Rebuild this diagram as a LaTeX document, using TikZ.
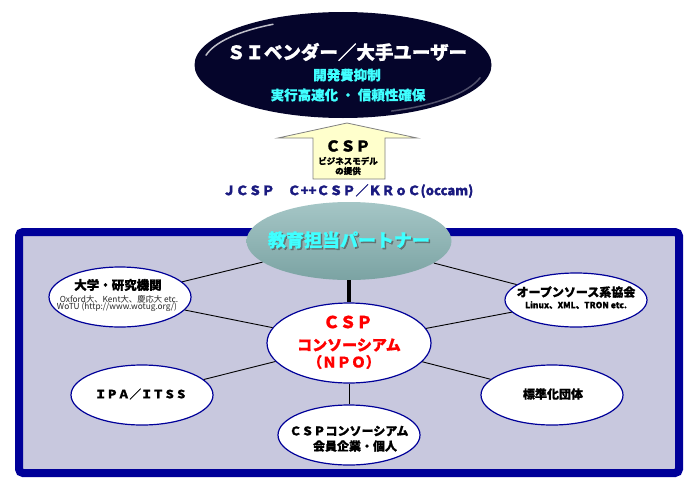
\documentclass[tikz,border=0pt]{standalone}
\usepackage{fontspec}
\setmainfont{Noto Sans CJK JP}[BoldFeatures={FakeBold=1}]
\usetikzlibrary{shapes.geometric}
\definecolor{frameblue}{HTML}{000099}
\definecolor{framefill}{HTML}{C8C8DE}
\definecolor{navytop}{HTML}{05052B}
\definecolor{cyantext}{HTML}{40FFFF}
\definecolor{tealtop}{HTML}{A5C6C6}
\definecolor{tealbot}{HTML}{7BA3A3}
\definecolor{arrowfill}{HTML}{FFFFCC}
\definecolor{jcspblue}{HTML}{1A1A80}
\definecolor{cspred}{HTML}{FF0000}
\newcommand{\fsz}[1]{\fontsize{#1}{#1}\selectfont}
\begin{document}
\begin{tikzpicture}[x=1pt,y=-1pt,
  ell/.style={ellipse, draw=frameblue, line width=1.2, fill=white, inner sep=0},
  conn/.style={line width=0.9, black},
  txt/.style={align=center, inner sep=0},
  btxt/.style={align=center, inner sep=0, font=\bfseries}
 ]
\useasboundingbox (0,0) rectangle (700,495);
\fill[white] (0,0) rectangle (700,495);
% frame
\draw[frameblue, line width=8, fill=framefill, rounded corners=4] (19,232) rectangle (679,473);
% top ellipse
\node[ellipse, fill=navytop, minimum width=297, minimum height=106, inner sep=0] (si) at (343,65) {};
\draw[white, opacity=0.75, line width=1.5, line cap=round] (si.center) ++(192:140 and 47) arc[start angle=192, end angle=240, x radius=140, y radius=47];
\draw[white, opacity=0.3, line width=1.5, line cap=round] (si.center) ++(15:142 and 49) arc[start angle=15, end angle=70, x radius=142, y radius=49];
\node[btxt, white, font=\bfseries\fsz{18.5}] (si-t) at (347,52) {ＳＩベンダー／大手ユーザー};
\node[btxt, cyantext, font=\bfseries\fsz{13.5}] (si-a) at (347,75) {開発費抑制};
\node[btxt, cyantext, font=\bfseries\fsz{13.5}] (si-b) at (348,95) {実行高速化\ ・\ 信頼性確保};
% arrow
\draw[gray, fill=arrowfill, line width=0.8, line join=miter] (347,123) -- (417,138) -- (385,138) -- (385,179) -- (313,179) -- (313,138) -- (278,138) -- cycle;
\node[btxt, font=\bfseries\fsz{15}] (ar-a) at (348,146) {ＣＳＰ};
\node[btxt, font=\bfseries\fsz{8.5}] (ar-b) at (348,161) {ビジネスモデル};
\node[btxt, font=\bfseries\fsz{8.5}] (ar-c) at (348,171) {の提供};
\node[btxt, jcspblue, font=\bfseries\fsz{13}] (jcsp) at (348,191) {ＪＣＳＰ　Ｃ++ＣＳＰ／ＫＲｏＣ(occam)};
% teal ellipse
\node[ellipse, top color=tealtop, bottom color=tealbot, minimum width=205, minimum height=78, inner sep=0] (edu) at (349,241) {};
\node[btxt, black!70, opacity=0.6, font=\bfseries\fsz{18}] (edu-s) at (350.5,241.5) {教育担当パートナー};
\node[btxt, cyantext, font=\bfseries\fsz{18}] (edu-t) at (349,240) {教育担当パートナー};
% ellipses
\node[ell, minimum width=164, minimum height=80] (csp) at (349,343) {};
\node[ell, minimum width=142, minimum height=60] (uni) at (120,297) {};
\node[ell, minimum width=142, minimum height=54] (oss) at (576,300) {};
\node[ell, minimum width=142, minimum height=60] (ipa) at (142,395) {};
\node[ell, minimum width=142, minimum height=60] (std) at (552,395) {};
\node[ell, minimum width=142, minimum height=60] (mem) at (349,435) {};
% connectors
\draw[line width=4] (edu) -- (csp);
\draw[conn] (edu) -- (uni);
\draw[conn] (uni) -- (csp);
\draw[conn] (edu) -- (oss);
\draw[conn] (oss) -- (csp);
\draw[conn] (csp) -- (ipa);
\draw[conn] (csp) -- (std);
\draw[conn] (csp) -- (mem);
% texts
\node[btxt, cspred, font=\bfseries\fsz{16.5}] (csp-a) at (348,322) {ＣＳＰ};
\node[btxt, cspred, font=\bfseries\fsz{15}] (csp-b) at (349,345) {コンソーシアム};
\node[btxt, cspred, font=\bfseries\fsz{14.5}] (csp-c) at (344,362) {（ＮＰＯ）};
\node[btxt, font=\bfseries\fsz{12.5}] (uni-a) at (118,285) {大学・研究機関};
\node[txt, black!85, font=\fsz{8.3}] (uni-b) at (119,299) {Oxford大、Kent大、慶応大 etc.};
\node[txt, black!85, font=\fsz{8.3}] (uni-c) at (117,307) {WoTU (http://www.wotug.org/)};
\node[btxt, font=\bfseries\fsz{12}] (oss-a) at (576,292) {オープンソース系協会};
\node[btxt, font=\bfseries\fsz{8.5}] (oss-b) at (576,305) {Linux、XML、TRON etc.};
\node[btxt, font=\bfseries\fsz{11.5}] (ipa-t) at (141,394) {ＩＰＡ／ＩＴＳＳ};
\node[btxt, font=\bfseries\fsz{12}] (std-t) at (553,394) {標準化団体};
\node[btxt, font=\bfseries\fsz{12}] (mem-a) at (349,431) {ＣＳＰコンソーシアム};
\node[btxt, font=\bfseries\fsz{12}] (mem-b) at (355,446) {会員企業・個人};
\end{tikzpicture}
\end{document}
